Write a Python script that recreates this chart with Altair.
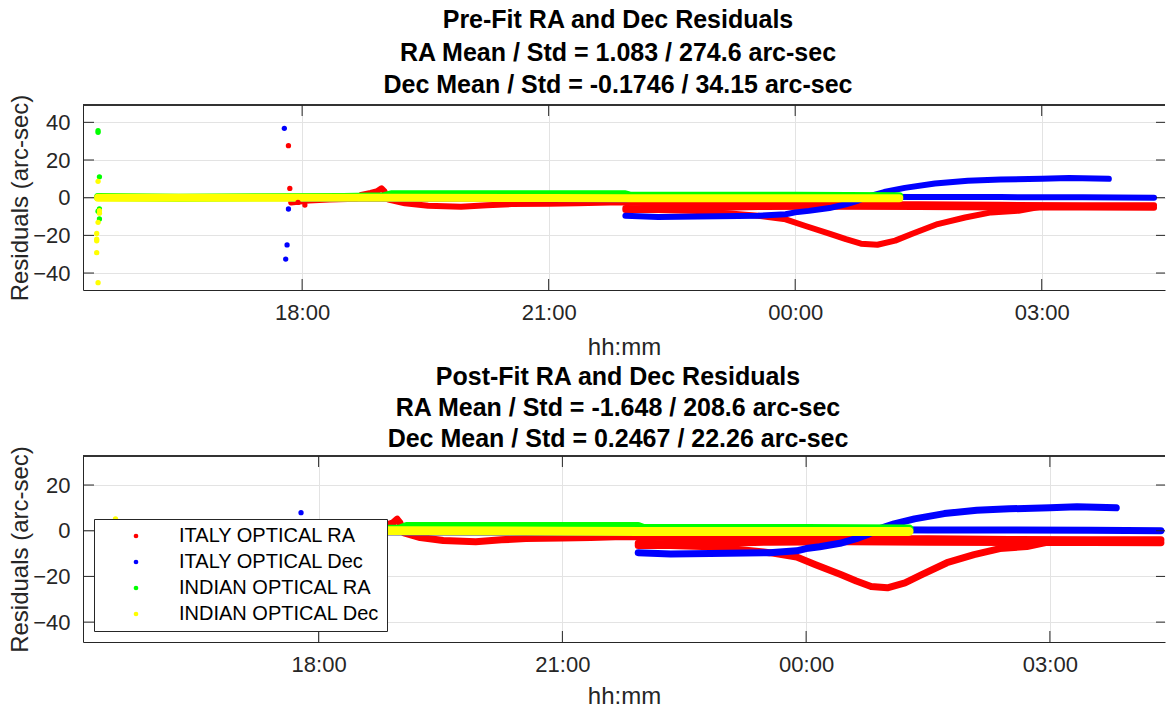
import altair as alt
import pandas as pd

# ---------------- data (time hh:mm, residual arc-sec) -------------
SERIES = ["ITALY OPTICAL RA", "ITALY OPTICAL Dec", "INDIAN OPTICAL RA", "INDIAN OPTICAL Dec"]
COLORS = ["#ff0000", "#0000ff", "#00ff00", "#ffff00"]

# ITALY OPTICAL RA - main band
ira1_t = ["17:52", "18:05", "18:20", "18:40", "18:43", "18:50", "18:55", "18:58", "19:00", "19:03",
          "19:15", "19:32", "19:56", "20:15", "20:33", "21:00", "21:21", "21:45", "21:56", "22:30",
          "23:30", "00:30", "01:30", "02:30", "03:30", "04:22"]
ira1_v = [-2.5, -1.5, -1.0, -0.5, 1.5, 2.5, 3.5, 5.0, 3.5, -1.0,
          -3.0, -4.3, -4.8, -4.0, -3.4, -3.2, -3.0, -2.5, -2.6, -3.2,
          -3.4, -3.5, -3.5, -3.8, -4.0, -4.0]
# ITALY OPTICAL RA - second band after 22:00
ira2_t = ["21:56", "22:30", "23:00", "23:33", "00:30", "01:30", "02:30", "03:30", "04:22"]
ira2_v = [-5.5, -5.8, -5.5, -5.0, -4.8, -5.0, -5.2, -5.2, -5.3]
# ITALY OPTICAL RA - dipping track
ira3_t = ["21:56", "22:20", "22:49", "23:10", "23:33", "23:53", "00:07", "00:26", "00:37", "00:48",
          "01:00", "01:13", "01:25", "01:44", "02:04", "02:23", "02:43", "03:02"]
ira3_v = [-6.5, -6.5, -7.0, -8.2, -9.6, -11.5, -14.9, -19.3, -22.0, -24.4,
          -25.0, -22.8, -19.3, -14.0, -10.5, -7.8, -6.9, -4.5]
# ITALY OPTICAL Dec - band near zero
idec1_t = ["17:52", "21:56", "22:30", "00:30", "01:30", "02:30", "03:30", "04:22"]
idec1_v = [-0.5, -0.8, 0.2, 0.5, 0.3, 0.3, 0.2, 0.0]
# ITALY OPTICAL Dec - rising track
idec2_t = ["21:56", "22:20", "22:49", "23:33", "23:53", "00:00", "00:10", "00:25", "00:37", "00:46",
           "00:55", "01:05", "01:20", "01:42", "02:06", "02:30", "03:00", "03:20", "03:49"]
idec2_v = [-9.6, -10.2, -10.0, -9.6, -8.8, -7.8, -7.0, -5.5, -3.5, -1.5,
           1.0, 3.0, 5.2, 7.5, 9.0, 9.6, 10.0, 10.5, 10.0]
# INDIAN OPTICAL RA
nra_t = ["15:31", "16:30", "17:30", "18:30", "19:00", "19:05", "20:00", "21:00", "21:56", "22:00",
         "23:00", "00:00", "01:16"]
nra_v = [0.3, 0.0, 0.2, 0.3, 0.8, 1.8, 1.8, 1.8, 1.8, 1.0, 1.0, 1.0, 0.8]
# INDIAN OPTICAL Dec
ndec_t = ["15:31", "17:00", "19:00", "21:00", "22:00", "00:00", "01:16"]
ndec_v = [0.0, 0.0, 0.0, -0.2, -0.3, -0.3, -0.3]

# isolated points, pre-fit
pre_out_series = (["ITALY OPTICAL RA"] * 4 + ["ITALY OPTICAL Dec"] * 4 +
                  ["INDIAN OPTICAL RA"] * 6 + ["INDIAN OPTICAL Dec"] * 9)
pre_out_t = ["17:50", "17:51", "17:57", "18:02",
             "17:47", "17:50", "17:49", "17:48",
             "15:31", "15:31", "15:32", "15:32", "15:31", "15:32",
             "15:31", "15:32", "15:32", "15:31", "15:30", "15:30", "15:30", "15:30", "15:31"]
pre_out_v = [27.6, 4.9, -2.5, -3.9,
             36.8, -6.0, -25.1, -32.6,
             35.6, 34.7, 11.1, -6.0, -7.2, -11.3,
             8.7, -6.9, -8.2, -13.1, -19.0, -22.0, -22.9, -29.2, -45.1]
# isolated points, post-fit
post_out_series = ["INDIAN OPTICAL Dec", "ITALY OPTICAL Dec"]
post_out_t = ["15:30", "17:47"]
post_out_v = [5.2, 7.9]

pre_title = ["Pre-Fit RA and Dec Residuals",
             "RA Mean / Std = 1.083 / 274.6 arc-sec",
             "Dec Mean / Std = -0.1746 / 34.15 arc-sec"]
post_title = ["Post-Fit RA and Dec Residuals",
              "RA Mean / Std = -1.648 / 208.6 arc-sec",
              "Dec Mean / Std = 0.2467 / 22.26 arc-sec"]

pre_xlim = ["15:20", "04:30"]
post_xlim = ["15:06", "04:25"]
pre_ylim = [-49.0, 49.2]
post_ylim = [-48.7, 32.7]
pre_yticks = [-40, -20, 0, 20, 40]
post_yticks = [-40, -20, 0, 20]
xticks_hours = [3, 6, 9, 12]  # 18:00, 21:00, 00:00, 03:00 (hours after 15:00)


def hrs(s):
    h, m = s.split(":")
    t = int(h) - 15 + int(m) / 60.0
    if t < 0:
        t += 24
    return t


def track_df(series, name, ts, vs):
    return pd.DataFrame({"series": series, "track": name, "t": [hrs(x) for x in ts], "v": vs})


tracks = {
    "ITALY OPTICAL RA": pd.concat([track_df("ITALY OPTICAL RA", "r1", ira1_t, ira1_v),
                                   track_df("ITALY OPTICAL RA", "r2", ira2_t, ira2_v),
                                   track_df("ITALY OPTICAL RA", "r3", ira3_t, ira3_v)]),
    "ITALY OPTICAL Dec": pd.concat([track_df("ITALY OPTICAL Dec", "b1", idec1_t, idec1_v),
                                    track_df("ITALY OPTICAL Dec", "b2", idec2_t, idec2_v)]),
    "INDIAN OPTICAL RA": track_df("INDIAN OPTICAL RA", "g", nra_t, nra_v),
    "INDIAN OPTICAL Dec": track_df("INDIAN OPTICAL Dec", "y", ndec_t, ndec_v),
}

W = 1082
FONT = "Liberation Sans"
AX = "#262626"
LABEL_EXPR = ("(floor((datum.value + 15) % 24) < 10 ? '0' : '') + "
              "floor((datum.value + 15) % 24) + ':00'")


def panel(title_lines, xlim, ylim, yticks, out_s, out_t, out_v, H, widths, legend,
          line_h, t_offset, x_title_pad):
    xdom = [hrs(xlim[0]), hrs(xlim[1])]
    x = alt.X("t:Q", scale=alt.Scale(domain=xdom, nice=False, zero=False),
              axis=alt.Axis(values=xticks_hours, labelExpr=LABEL_EXPR, title="hh:mm",
                            grid=True, ticks=False, labelPadding=12, titlePadding=x_title_pad))
    y = alt.Y("v:Q", scale=alt.Scale(domain=ylim, nice=False, zero=False),
              axis=alt.Axis(values=yticks, title="Residuals (arc-sec)", grid=True,
                            ticks=False, labelPadding=13, titlePadding=0))
    cscale = alt.Scale(domain=SERIES, range=COLORS)
    layers = []
    for s, c, w in zip(SERIES, COLORS, widths):
        layers.append(
            alt.Chart(tracks[s]).mark_line(color=c, strokeWidth=w, strokeCap="round",
                                           strokeJoin="round", clip=True)
            .encode(x=x, y=y, detail="track:N")
        )
    out_df = pd.DataFrame({"series": out_s, "t": [hrs(a) for a in out_t], "v": out_v})
    layers.append(
        alt.Chart(out_df).mark_circle(size=28, opacity=1, clip=True)
        .encode(x=x, y=y, color=alt.Color("series:N", scale=cscale, legend=legend))
    )
    ydf = pd.DataFrame({"v": yticks})
    xdf = pd.DataFrame({"t": xticks_hours})
    layers.append(alt.Chart(ydf).mark_rule(color=AX, strokeWidth=1)
                  .encode(y=y, x=alt.value(0), x2=alt.value(11)))
    layers.append(alt.Chart(ydf).mark_rule(color=AX, strokeWidth=1)
                  .encode(y=y, x=alt.value(W - 9), x2=alt.value(W)))
    layers.append(alt.Chart(xdf).mark_rule(color=AX, strokeWidth=1)
                  .encode(x=x, y=alt.value(H - 11), y2=alt.value(H)))
    layers.append(alt.Chart(xdf).mark_rule(color=AX, strokeWidth=1)
                  .encode(x=x, y=alt.value(0), y2=alt.value(11)))
    layers.append(alt.Chart(xdf).mark_rule(color=AX, strokeWidth=1)
                  .encode(x=alt.value(0), x2=alt.value(W), y=alt.value(0)))
    return alt.layer(*layers).properties(
        width=W, height=H,
        title=alt.TitleParams(title_lines, fontSize=25, fontWeight="bold", font=FONT,
                              color="#000000", lineHeight=line_h, anchor="middle",
                              offset=t_offset, dx=-6),
    )


legend = alt.Legend(orient="bottom-left", offset=11, title=None, fillColor="white",
                    strokeColor=AX, padding=7, symbolType="circle", symbolSize=22,
                    symbolOffset=25, labelOffset=33, labelFontSize=20, labelFont=FONT,
                    labelColor="#000000", rowPadding=6, symbolStrokeWidth=0,
                    labelLimit=400)

top = panel(pre_title, pre_xlim, pre_ylim, pre_yticks, pre_out_series, pre_out_t, pre_out_v,
            185, [6, 6, 8, 8], None, 32.5, -4, 12)
bottom = panel(post_title, post_xlim, post_ylim, post_yticks, post_out_series, post_out_t,
               post_out_v, 186, [7, 7, 9, 9], legend, 31, -6, 9)

chart = (
    alt.vconcat(top, bottom, spacing=5)
    .resolve_scale(color="independent")
    .resolve_legend(color="independent")
    .properties(padding={"left": 8, "top": 8, "right": 0, "bottom": 0}, background="white")
    .configure_view(stroke=None)
    .configure_axis(domainColor=AX, domainWidth=1, labelColor=AX, titleColor=AX,
                    gridColor="#e3e3e3", gridWidth=1, labelFont=FONT, titleFont=FONT,
                    labelFontSize=22, titleFontSize=24, titleFontWeight="normal")
)

chart.save("out.html", embed_options={"renderer": "svg", "actions": False})
